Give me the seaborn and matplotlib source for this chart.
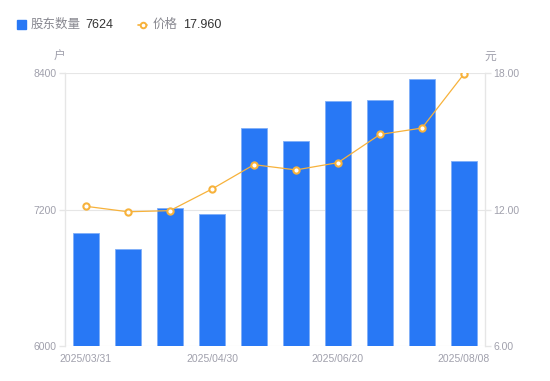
import matplotlib
matplotlib.use("Agg")
import matplotlib.pyplot as plt
import seaborn as sns
import pandas as pd
import numpy as np

holders = [6993, 6853, 7211, 7160, 7914, 7802, 8151, 8160, 8345, 7624]
prices = [12.14, 11.90, 11.95, 12.90, 13.97, 13.74, 14.06, 15.30, 15.58, 17.96]
x_labels = ["2025/03/31", "", "", "2025/04/30", "", "", "2025/06/20", "", "", "2025/08/08"]
left_ticks = [6000, 7200, 8400]
right_ticks = [6.00, 12.00, 18.00]

sns.set_theme(style="white")
plt.rcParams['font.family'] = ['Liberation Sans', 'Noto Sans CJK SC', 'DejaVu Sans']

BLUE = "#2878F5"
ORANGE = "#F7B23B"
GRAY = "#A0A0AC"
GRID = "#E6E6E6"

df = pd.DataFrame({"idx": list(range(len(holders))), "holders": holders, "price": prices})

fig = plt.figure(figsize=(5.5, 3.81), dpi=100)
ax = fig.add_axes([65/550, 1-346/381, 420/550, 273/381])
sns.barplot(data=df, x="idx", y="holders", color=BLUE, width=0.6, ax=ax,
            saturation=1, edgecolor="#7FAEF8", linewidth=0.6, zorder=2)
ax.set_ylim(6000, 8400)
ax.set_xlim(-0.5, len(holders) - 0.5)
ax.set_yticks(left_ticks)
ax.set_yticklabels([str(t) for t in left_ticks], color=GRAY, fontsize=7.5)
ax.set_xticks(range(len(holders)))
ax.set_xticklabels(x_labels, color=GRAY, fontsize=7.5)
ax.tick_params(axis="x", length=0, pad=6)
ax.tick_params(axis="y", length=4, color=GRID, width=1, pad=2, left=True)
ax.set_xlabel("")
ax.set_ylabel("")
for t in left_ticks:
    ax.axhline(t, color=GRID, lw=0.8, zorder=0)
for s in ["top", "right", "bottom"]:
    ax.spines[s].set_visible(False)
ax.spines["left"].set_color(GRID)
ax.spines["left"].set_linewidth(1)

ax2 = ax.twinx()
sns.lineplot(data=df, x="idx", y="price", color=ORANGE, lw=0.9, ax=ax2,
             marker="o", markersize=4.5, markerfacecolor="white",
             markeredgecolor=ORANGE, markeredgewidth=1.5, zorder=3)
ax2.set_ylim(6, 18)
ax2.set_yticks(right_ticks)
ax2.set_yticklabels([f"{t:.2f}" for t in right_ticks], color=GRAY, fontsize=7.5)
ax2.tick_params(axis="y", length=4, color=GRID, width=1, pad=2, right=True)
ax2.set_ylabel("")
ax2.set_xlabel("")
for s in ["top", "left", "bottom"]:
    ax2.spines[s].set_visible(False)
ax2.spines["right"].set_color(GRID)
ax2.spines["right"].set_linewidth(1)

fig.text(60/550, 1-57/381, "户", color=GRAY, fontsize=8.5, ha="center", va="center")
fig.text(490/550, 1-57/381, "元", color=GRAY, fontsize=8.5, ha="center", va="center")

# legend
fig.patches.append(matplotlib.patches.Rectangle((17/550, 1-29/381), 9/550, 9/381,
                   transform=fig.transFigure, color=BLUE, figure=fig))
fig.text(30.5/550, 1-24.5/381, "股东数量", color="#888890", fontsize=9, ha="left", va="center")
fig.text(85/550, 1-24.5/381, "7624", color="#333333", fontsize=9, ha="left", va="center")
fig.lines.append(matplotlib.lines.Line2D([138/550, 142.5/550, 147/550], [1-24.5/381] * 3,
                 transform=fig.transFigure, color=ORANGE, lw=1.2, marker="o",
                 markersize=4, markerfacecolor="white", markeredgecolor=ORANGE,
                 markeredgewidth=1.4, markevery=[1], figure=fig))
fig.text(153/550, 1-24.5/381, "价格", color="#888890", fontsize=9, ha="left", va="center")
fig.text(183/550, 1-24.5/381, "17.960", color="#333333", fontsize=9, ha="left", va="center")

fig.savefig("out.png", dpi=100)
